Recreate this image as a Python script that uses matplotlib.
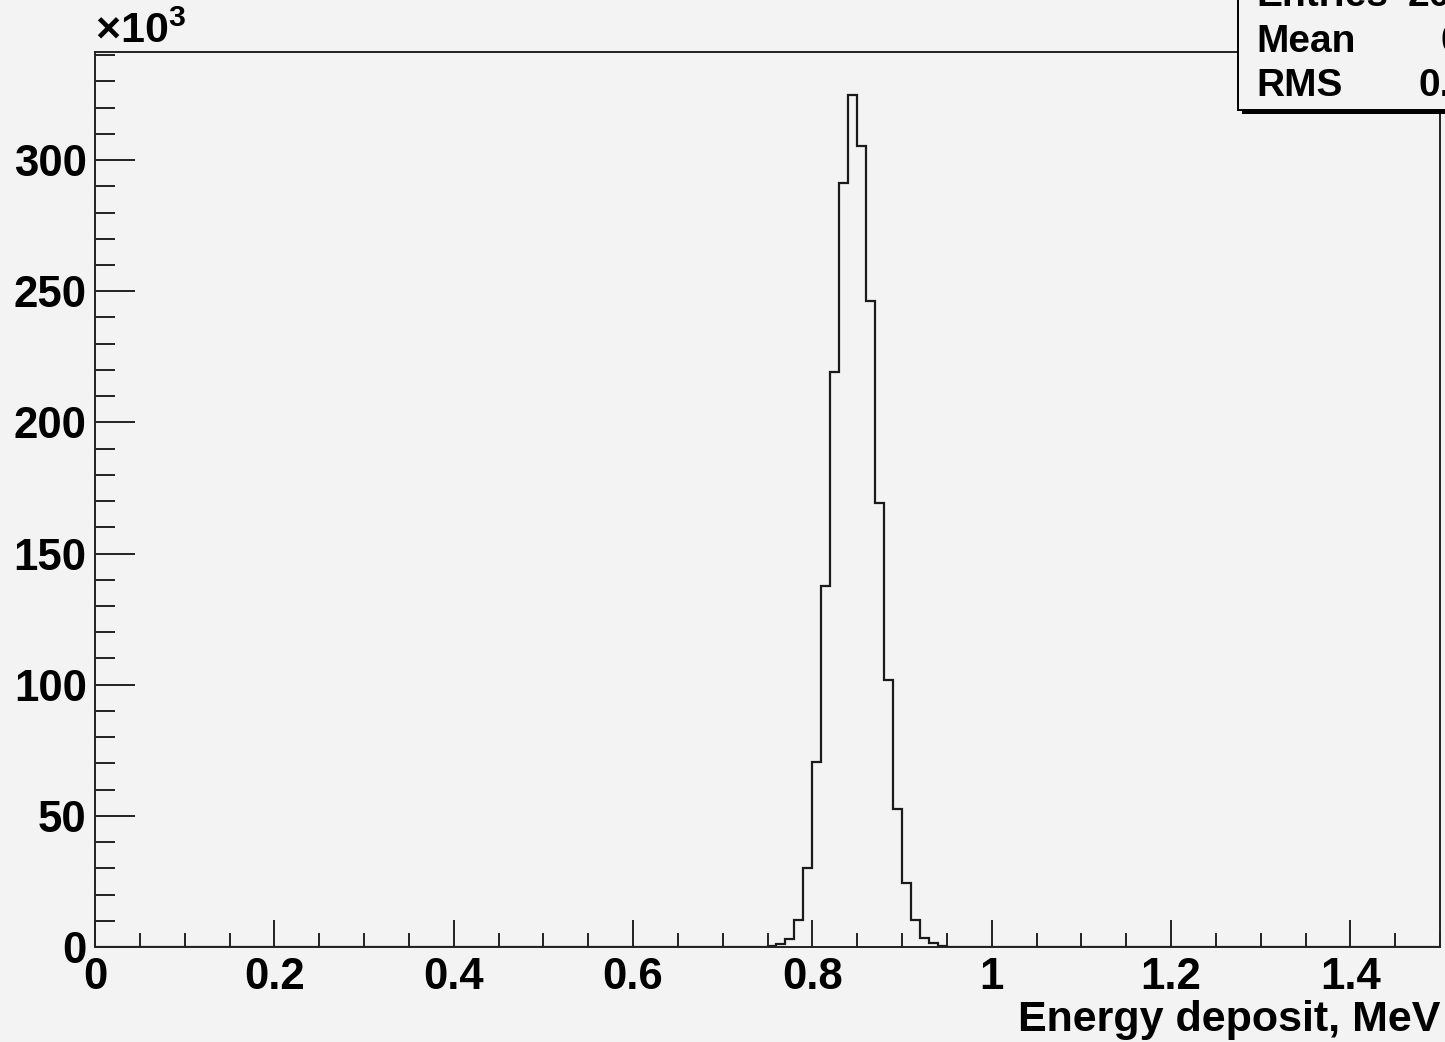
import numpy as np
import matplotlib
matplotlib.use("Agg")
import matplotlib.pyplot as plt
from matplotlib.ticker import MultipleLocator, FuncFormatter
from matplotlib.patches import Rectangle

# Histogram binning (0 to 1.5 MeV, 0.01 MeV bins) and the non-empty bins
x_min, x_max, bin_width = 0.0, 1.5, 0.01
peak_first_bin = 0.75
peak_counts = [200, 1100, 3200, 10300, 30200, 70400, 137500, 219300,
               291300, 324700, 305200, 246200, 169200, 101800, 52800,
               24400, 10300, 3600, 1500, 500, 100]

stat_names = ["Entries", "Mean", "RMS"]
stat_values = ["2003800", "0.8497", "0.02199"]

n_bins = int(round((x_max - x_min) / bin_width))
edges = np.linspace(x_min, x_max, n_bins + 1)
counts = np.zeros(n_bins)
i0 = int(round((peak_first_bin - x_min) / bin_width))
counts[i0:i0 + len(peak_counts)] = peak_counts

bg = "#f3f3f3"
plt.rcParams["font.family"] = ["Liberation Sans", "DejaVu Sans"]
plt.rcParams["font.weight"] = "bold"
plt.rcParams["mathtext.fontset"] = "custom"
plt.rcParams["mathtext.rm"] = "Liberation Sans"
plt.rcParams["mathtext.bf"] = "Liberation Sans:bold"

fig = plt.figure(figsize=(14.45, 10.42), dpi=100, facecolor=bg)
ax = fig.add_axes([95 / 1445, 95 / 1042, 1345 / 1445, 895 / 1042])
ax.set_facecolor(bg)

ax.stairs(counts, edges, color="#1a1a1a", lw=1.6)

ax.set_xlim(x_min, x_max)
ax.set_ylim(0, 341200)

ax.xaxis.set_major_locator(MultipleLocator(0.2))
ax.xaxis.set_minor_locator(MultipleLocator(0.05))
ax.yaxis.set_major_locator(MultipleLocator(50000))
ax.yaxis.set_minor_locator(MultipleLocator(10000))
ax.xaxis.set_major_formatter(FuncFormatter(lambda v, p: f"{v:g}"))
ax.yaxis.set_major_formatter(FuncFormatter(lambda v, p: f"{v / 1000:g}"))

ax.tick_params(axis="both", which="both", direction="in", width=1.4,
               color="#222222", labelsize=31.5, top=False, right=False)
ax.tick_params(axis="x", which="major", length=19.5, pad=7)
ax.tick_params(axis="x", which="minor", length=10)
ax.tick_params(axis="y", which="major", length=29, pad=6)
ax.tick_params(axis="y", which="minor", length=14.5)
for lab in ax.get_xticklabels() + ax.get_yticklabels():
    lab.set_fontweight("bold")

for s in ax.spines.values():
    s.set_linewidth(1.4)
    s.set_color("#222222")

ax.set_xlabel("Energy deposit, MeV", fontsize=31, fontweight="bold",
              loc="right", labelpad=2)

ax.text(0.0, 1.0, r"$\times\mathbf{10}^{\mathbf{3}}$", transform=ax.transAxes,
        fontsize=31, ha="left", va="bottom")

# statistics box, partly outside the canvas like the original
bx, by = 1238 / 1445, (1042 - 110) / 1042
fig.patches.append(Rectangle((bx + 4 / 1445, by - 4 / 1042), 0.3, 0.3,
                             transform=fig.transFigure, facecolor="black",
                             edgecolor="none", zorder=5))
fig.patches.append(Rectangle((bx, by), 0.3, 0.3, transform=fig.transFigure,
                             facecolor=bg, edgecolor="black", lw=1.4, zorder=6))
row_y = [1042 + 4, 1042 - 42, 1042 - 86]
for name, val, yy in zip(stat_names, stat_values, row_y):
    fig.text(1256 / 1445, yy / 1042, name, fontsize=28, fontweight="bold",
             ha="left", va="center", zorder=7)
    fig.text(1559 / 1445, yy / 1042, val, fontsize=28, fontweight="bold",
             ha="right", va="center", zorder=7)

fig.savefig("out.png", dpi=100, facecolor=bg)
